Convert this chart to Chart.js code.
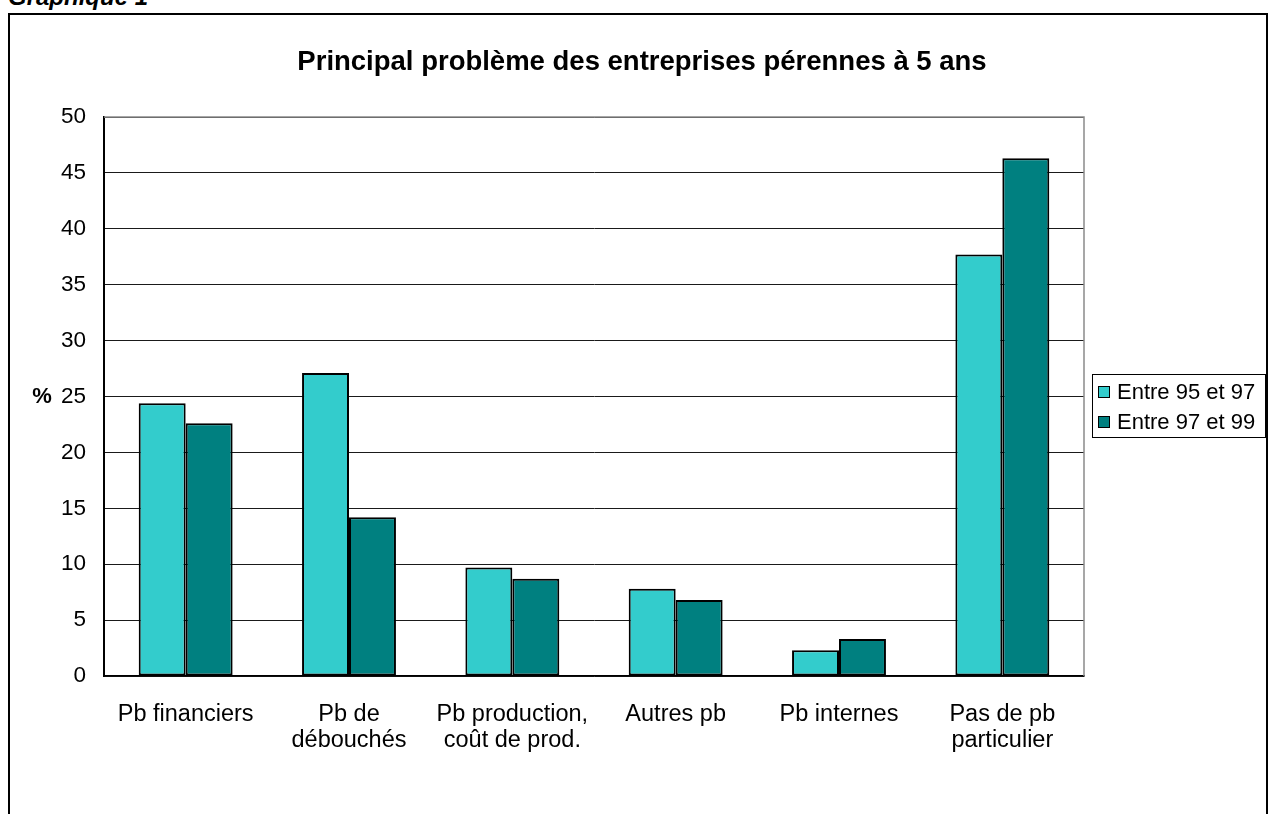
<!DOCTYPE html>
<html><head><meta charset="utf-8">
<script src="https://cdn.jsdelivr.net/npm/chart.js@4"></script>
<style>
html,body{margin:0;padding:0;background:#fff;width:1268px;height:814px;overflow:hidden;font-family:Arial,"Liberation Sans",sans-serif;}
#frame{position:absolute;left:8px;top:13px;width:1256px;height:900px;border:2px solid #000;}
#gtitle{position:absolute;left:8px;top:-17px;font:italic bold 24px Arial,"Liberation Sans",sans-serif;color:#000;}
#wrap{position:absolute;left:0;top:0;width:1268px;height:814px;}
</style></head>
<body>
<div id="gtitle">Graphique 1</div>
<div id="frame"></div>
<div id="wrap"><canvas id="c" width="1268" height="814"></canvas></div>
<script>
const categories = [["Pb financiers"], ["Pb de", "débouchés"], ["Pb production,", "coût de prod."], ["Autres pb"], ["Pb internes"], ["Pas de pb", "particulier"]];
const seriesNames = ["Entre 95 et 97", "Entre 97 et 99"];
const values9597 = [24.4, 27.1, 9.7, 7.8, 2.3, 37.7];
const values9799 = [22.6, 14.2, 8.7, 6.8, 3.3, 46.3];
const yTicks = [0, 5, 10, 15, 20, 25, 30, 35, 40, 45, 50];
const chartTitle = "Principal problème des entreprises pérennes à 5 ans";
const yAxisLabel = "%";

const FONT = 'Arial, "Liberation Sans", sans-serif';
const colors = ["#33CCCC", "#008080"];

const extras = {
  id: 'extras',
  afterDraw(chart) {
    const ctx = chart.ctx, a = chart.chartArea;
    ctx.save();
    // plot area frame
    ctx.strokeStyle = '#8a8a8a'; ctx.lineWidth = 1.5;
    ctx.beginPath(); ctx.moveTo(a.left, a.top); ctx.lineTo(a.right, a.top); ctx.lineTo(a.right, a.bottom); ctx.stroke();
    // chart title
    ctx.fillStyle = '#000'; ctx.font = 'bold 27.5px ' + FONT;
    ctx.textAlign = 'center'; ctx.textBaseline = 'alphabetic';
    ctx.fillText(chartTitle, 642, 70);
    // y axis title
    ctx.font = 'bold 22px ' + FONT; ctx.textBaseline = 'middle';
    ctx.fillText(yAxisLabel, 42, chart.scales.y.getPixelForValue(25));
    // legend
    const lx = 1092, ly = 374, lw = 173, lh = 63;
    ctx.fillStyle = '#fff'; ctx.fillRect(lx, ly, lw, lh);
    ctx.strokeStyle = '#000'; ctx.lineWidth = 1; ctx.strokeRect(lx + 0.5, ly + 0.5, lw, lh);
    ctx.font = '22px ' + FONT; ctx.textAlign = 'left';
    chart.data.datasets.forEach((ds, i) => {
      const cy = ly + 18 + i * 30;
      ctx.fillStyle = ds.backgroundColor; ctx.fillRect(1098, cy - 6, 12, 12);
      ctx.strokeStyle = '#000'; ctx.strokeRect(1098.5, cy - 5.5, 11, 11);
      ctx.fillStyle = '#000'; ctx.fillText(ds.label, 1117, cy + 1);
    });
    ctx.restore();
  }
};

new Chart(document.getElementById('c'), {
  type: 'bar',
  data: {
    labels: categories,
    datasets: [
      { label: seriesNames[0], data: values9597, backgroundColor: colors[0], borderColor: '#000', borderWidth: 2, borderSkipped: false },
      { label: seriesNames[1], data: values9799, backgroundColor: colors[1], borderColor: '#000', borderWidth: 2, borderSkipped: false }
    ]
  },
  options: {
    responsive: false,
    animation: false,
    devicePixelRatio: 1,
    layout: { padding: { left: 20, right: 184, top: 117, bottom: 30 } },
    datasets: { bar: { categoryPercentage: 0.575, barPercentage: 1.0 } },
    plugins: {
      legend: { display: false },
      tooltip: { enabled: false },
      title: { display: false }
    },
    scales: {
      x: {
        grid: { display: false, drawTicks: false },
        border: { color: '#000', width: 1.5 },
        ticks: { color: '#000', font: { family: FONT, size: 23.5, lineHeight: 1.1 }, padding: 26, maxRotation: 0, autoSkip: false },
        afterFit(s) { s.height = 108; }
      },
      y: {
        min: 0, max: 50,
        afterBuildTicks(s) { s.ticks = yTicks.map(v => ({ value: v })); },
        grid: { color: '#1a1a1a', lineWidth: 1, drawTicks: false },
        border: { color: '#000', width: 2 },
        ticks: { color: '#000', font: { family: FONT, size: 22.5 }, padding: 18 },
        afterFit(s) { s.width = 84; }
      }
    }
  },
  plugins: [extras]
});
</script>
</body></html>
